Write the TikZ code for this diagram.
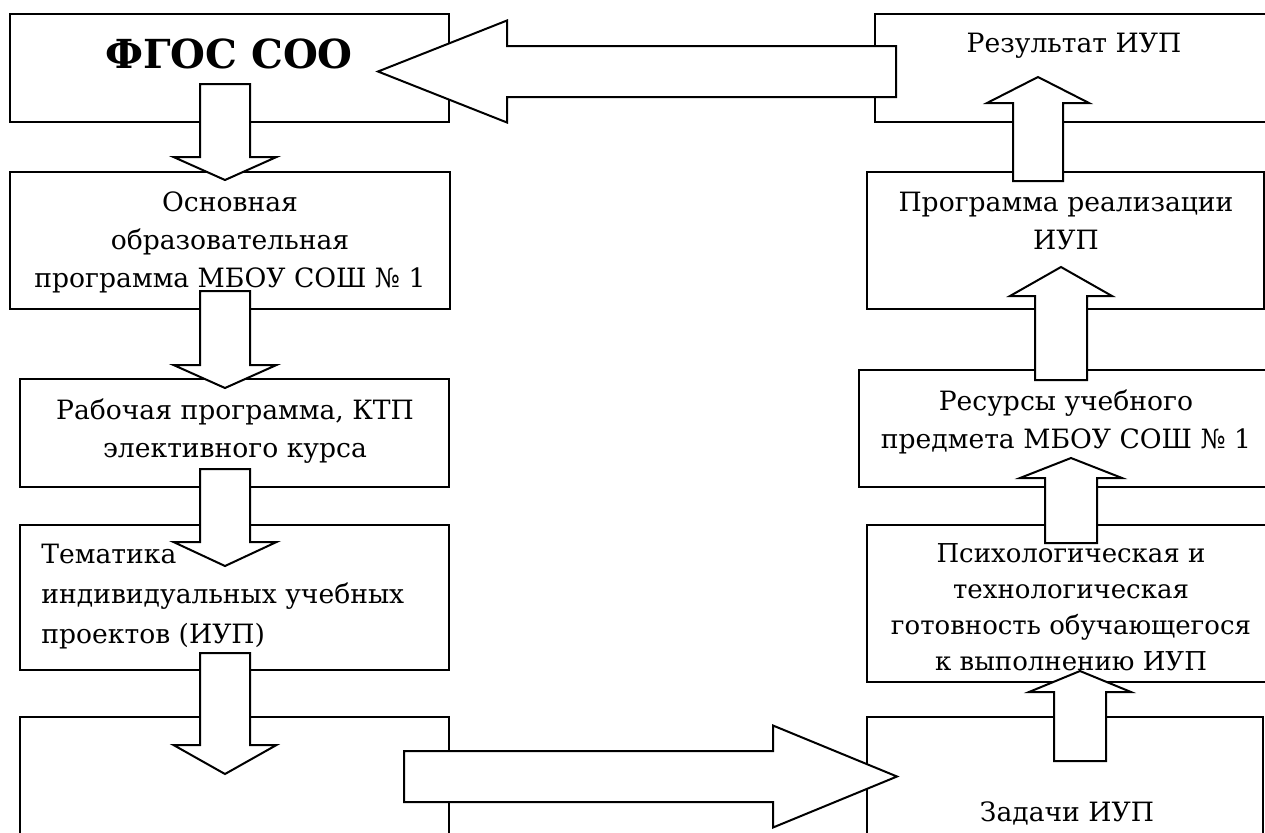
\documentclass[tikz,border=0pt]{standalone}
\usepackage{fontspec}
\setmainfont{DejaVu Serif}
\usetikzlibrary{fit}
\newcommand\vblk[6]{% cx, shaft end, head base, tip, shaft half, head half
  \draw[blk] (#1-#5,#2) -- (#1+#5,#2) -- (#1+#5,#3) -- (#1+#6,#3) -- (#1,#4) -- (#1-#6,#3) -- (#1-#5,#3) -- cycle;}
\newcommand\hblk[6]{% cy, shaft end, head base, tip, shaft half, head half
  \draw[blk] (#2,#1-#5) -- (#3,#1-#5) -- (#3,#1-#6) -- (#4,#1) -- (#3,#1+#6) -- (#3,#1+#5) -- (#2,#1+#5) -- cycle;}
\begin{document}
\begin{tikzpicture}[x=0.5pt,y=-0.5pt,
  box/.style={draw, line width=1pt, inner sep=0pt},
  blk/.style={draw, line width=1pt, fill=white, line join=miter},
  lbl/.style={inner sep=0pt, align=center, font=\fontsize{13.3}{19}\selectfont},
]
\clip (0,0) rectangle (1265,832);
\fill[white] (0,0) rectangle (1265,832);
% boxes
\node[box, fit={(10,14) (449,122)}] (fgos) {};
\node[box, fit={(10,172) (450,309)}] (osn) {};
\node[box, fit={(20,379) (449,487)}] (rab) {};
\node[box, fit={(20,525) (449,670)}] (tem) {};
\node[box, fit={(20,717) (449,860)}] (empty) {};
\node[box, fit={(875,14) (1280,122)}] (res) {};
\node[box, fit={(867,172) (1264,309)}] (prog) {};
\node[box, fit={(859,370) (1280,487)}] (resu) {};
\node[box, fit={(867,525) (1280,682)}] (psy) {};
\node[box, fit={(867,717) (1263,860)}] (zad) {};
% block arrows
\vblk{225}{84}{157}{180}{25}{51.5}
\vblk{225}{291}{365}{388}{25}{51.5}
\vblk{225}{469}{542}{566}{25}{51.5}
\vblk{225}{653}{745}{774}{25}{51.5}
\vblk{1038}{181}{103}{77}{25}{51}
\vblk{1061}{380}{296}{267}{26}{51}
\vblk{1071}{543}{478}{458}{26}{51}
\vblk{1080}{761}{692}{671}{26}{51}
\hblk{71.5}{896}{507}{378}{25.5}{51}
\hblk{776.5}{404}{773}{897}{25.5}{51}
% texts
\node[lbl, font=\fontsize{20}{24}\selectfont\bfseries] (t-fgos) at (229,54) {ФГОС СОО};
\node[lbl] (t-osn) at (230,242) {Основная\\образовательная\\программа МБОУ СОШ № 1};
\node[lbl] (t-rab) at (235,431) {Рабочая программа, КТП\\элективного курса};
\node[lbl, align=left, anchor=west, font=\fontsize{13.3}{20}\selectfont] (t-tem) at (41,597) {Тематика\\индивидуальных учебных\\проектов (ИУП)};
\node[lbl] (t-res) at (1074,46) {Результат ИУП};
\node[lbl] (t-prog) at (1066,221) {Программа реализации\\ИУП};
\node[lbl] (t-resu) at (1066,422) {Ресурсы учебного\\предмета МБОУ СОШ № 1};
\node[lbl, font=\fontsize{13}{18}\selectfont] (t-psy) at (1071,607) {Психологическая и\\технологическая\\готовность обучающегося\\к выполнению ИУП};
\node[lbl] (t-zad) at (1067,813) {Задачи ИУП};
\end{tikzpicture}
\end{document}
